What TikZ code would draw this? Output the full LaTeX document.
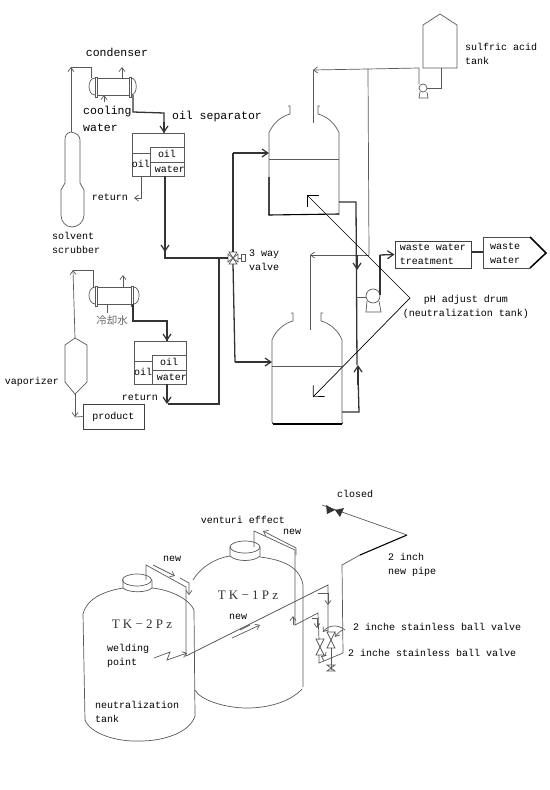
\documentclass[tikz,border=0pt]{standalone}
\usepackage{fontspec}
\setmainfont{Liberation Mono}
\newfontfamily\cjkfont{Noto Sans CJK JP}
\newfontfamily\tkfont{Liberation Serif}
\usetikzlibrary{arrows.meta,positioning,calc}

\tikzset{
  pipe/.style={draw=black!65, line width=0.7pt},
  hpipe/.style={draw=black!80, line width=1.3pt},
  lbl/.style={font=\fontsize{10}{14}\selectfont, inner sep=0pt, align=left},
  biglbl/.style={font=\fontsize{11.5}{13}\selectfont, inner sep=0pt, align=left},
  tklbl/.style={font=\tkfont\fontsize{13}{14}\selectfont, inner sep=0pt, text=black!80},
  barb/.style={-{Straight Barb[length=4pt,width=6pt]}},
  hbarb/.style={-{Straight Barb[length=6pt,width=8pt,line width=1.2pt]}},
  leader/.style={draw=black, line width=0.7pt, -{Straight Barb[length=8pt,width=16pt]}},
  separator/.pic={
    \draw[pipe] (0,0) rectangle (52,43);
    \draw[pipe] (18,43) -- (18,14) -- (52,14) (0,20) -- (18,20) (18,29) -- (52,29);
    \node[lbl] at (35,21) {oil};
    \node[lbl] at (9,31) {oil};
    \node[lbl] at (38,36) {water};
  },
  condenser/.pic={
    \draw[pipe] (6,0) .. controls (-2,0) and (-2,17) .. (6,17);
    \draw[pipe] (42,0) .. controls (49,0) and (49,17) .. (42,17);
    \draw[pipe] (6,-1) rectangle (8,19) (40,-1) rectangle (42,19);
    \draw[pipe, line width=1pt] (8,0) -- (40,0) (8,17) -- (40,17);
  },
  drum/.pic={
    \draw[pipe] (0,82) -- (0,0) .. controls (3,-8) and (10,-15) .. (18,-18) -- (21,-19) -- (21,-27) -- (19,-27);
    \draw[pipe] (70,82) -- (70,0) .. controls (67,-8) and (60,-15) .. (52,-18) -- (49,-19) -- (49,-27) -- (51,-27);
    \draw[pipe] (0,26) -- (70,26);
  },
  vvalve/.pic={
    \draw[pipe] (-4,-8) -- (4,-8) -- (0,0) -- cycle;
    \draw[pipe] (-4,8) -- (4,8) -- (0,0) -- cycle;
  },
}

\begin{document}
\begin{tikzpicture}[x=1pt,y=-1pt]
  \useasboundingbox (0,0) rectangle (549,790);

  % upper line: scrubber side
  \draw[pipe] (71,132) .. controls (66,133) and (65,136) .. (65,140) -- (65,183) -- (61,190) -- (61,215)
    .. controls (61,222) and (66,227) .. (72,227) .. controls (78,227) and (84,222) .. (84,215)
    -- (84,190) -- (80,183) -- (80,140) .. controls (80,136) and (77,133) .. (71,132);
  \coordinate (scrubtop) at (71,132);
  \coordinate (cond1in) at (91,78);
  \draw[pipe,barb] (scrubtop) -- (71,67);
  \draw[pipe] (71,67) -- (91,67) -- (cond1in);
  \pic at (89,78) {condenser};
  \draw[pipe,barb] (122,78) -- (122,67);
  \draw[pipe,barb] (104,102) -- (104,95);
  \pic at (132,133) {separator};
  \coordinate (sep1in) at (164,133);
  \draw[hpipe] (133,95) -- (133,112) -- (164,113) -- (sep1in);
  \draw[hpipe,hbarb] (164,122) -- (sep1in);
  \draw[pipe,barb] (141,176) -- (141,198) -- (134,198);
  \node[biglbl] (condlbl) at (117,52) {condenser};
  \node[biglbl, anchor=west] (coollbl) at (83,112) {cooling};
  \node[biglbl, below=6pt of coollbl.south west, anchor=north west] (watlbl) {water};
  \node[biglbl] (seplbl) at (217,117) {oil separator};
  \node[lbl] (ret1lbl) at (110,197) {return};
  \node[lbl] (solvlbl) at (52,243) [anchor=west] {solvent\\scrubber};

  % 3 way valve
  \coordinate (valve) at (233,258);
  \draw[pipe] (valve) -- ++(-5,-4) -- ++(0,8) -- cycle (valve) -- ++(5,-4) -- ++(0,8) -- cycle;
  \draw[pipe] (valve) -- ++(-4,-6) -- ++(8,0) -- cycle (valve) -- ++(-4,6) -- ++(8,0) -- cycle;
  \draw[pipe] (238,258) -- (241,258);
  \draw[pipe] (241,254) rectangle (245,261);
  \node[lbl, anchor=west] (vallbl) at (249,260) {3 way\\valve};
  \draw[hpipe] (165,176) -- (165,258) -- (228,258);
  \draw[hpipe,hbarb] (165,243) -- (165,252);
  \draw[hpipe] (233,252) -- (233,153);
  \draw[hpipe,hbarb] (233,153) -- (269,153);
  \draw[hpipe] (233,264) -- (235,362);
  \draw[hpipe,hbarb] (235,362) -- (272,362);

  % lower line: vaporizer side
  \coordinate (vaptop) at (75,338);
  \coordinate (vaptip) at (75,394);
  \draw[pipe] (vaptop) -- (87,345) -- (87,382) -- (vaptip) -- (65,382) -- (65,345) -- cycle;
  \coordinate (cond2in) at (93,287);
  \draw[pipe,barb] (vaptop) -- (73,270);
  \draw[pipe] (73,270) -- (93,270) -- (cond2in);
  \pic[xscale=1.06] at (89,287) {condenser};
  \draw[pipe,barb] (123,287) -- (123,275);
  \draw[pipe] (107,304) -- (107,313);
  \node[font=\cjkfont\fontsize{10.5}{12}\selectfont, text=black!60, inner sep=0pt] (coollbl2) at (112,321) {冷却水};
  \pic at (134,341) {separator};
  \coordinate (sep2in) at (167,341);
  \draw[hpipe] (133,304) -- (133,321) -- (167,321) -- (sep2in);
  \draw[hpipe,hbarb] (167,330) -- (sep2in);
  \node[draw=black!75, line width=1pt, minimum width=61pt, minimum height=25pt, inner sep=0pt, lbl] (prod) at (113.5,416.5) {product};
  \draw[pipe,barb] (vaptip) -- (75,417);
  \draw[pipe] (75,417) -- (prod.west);
  \node[lbl] (vaplbl) at (32,382) {vaporizer};
  \node[lbl] (ret2lbl) at (140,397) {return};
  \draw[hpipe] (219,258) -- (219,404) -- (168,404);
  \draw[hpipe,hbarb] (167,384) -- (167,404);

  % pH adjust drums
  \pic at (269,133) {drum};
  \pic at (272,340) {drum};
  \draw[line width=1.1pt] (269,177) -- (269,215) -- (339,214);
  \draw[line width=1.8pt] (273,424) -- (342,424);
  \draw[pipe, line width=0.5pt] (272,422) -- (272,424) (342,422) -- (342,424);

  % sulfric acid tank and pump
  \coordinate (acidout) at (441,68);
  \draw[pipe] (423,68) -- (423,25) -- (440,14) -- (457,25) -- (457,68) -- cycle;
  \draw[pipe] (acidout) -- (441,88) -- (427,88);
  \draw[pipe] (423,88) circle (4);
  \draw[pipe] (420,92) -- (419,98) -- (428,98) -- (427,92);
  \draw[pipe] (419,84) -- (419,68) -- (368,69);
  \draw[pipe,barb] (368,69) -- (313,70);
  \draw[pipe] (313,70) -- (313,123);
  \draw[pipe] (368,69) -- (369,255);
  \draw[pipe,barb] (369,255) -- (310,255);
  \draw[pipe] (310,255) -- (310,330);
  \node[lbl, anchor=west] (acidlbl) at (465,54) {sulfric acid\\tank};

  % drum outlets and transfer pump
  \draw[hpipe] (339,202) -- (356,202) -- (357,365);
  \draw[hpipe,hbarb] (357,255) -- (357,270);
  \draw[hpipe] (342,412) -- (359,412) -- (358,375);
  \draw[hpipe,hbarb] (358,385) -- (358,365);
  \draw[pipe] (357,297) -- (366,297);
  \draw[pipe] (373,296) circle (7);
  \draw[pipe] (367,301) -- (366,312) -- (381,312) -- (379,301);
  \node[draw=black!75, line width=1pt, minimum width=76pt, minimum height=27pt, inner sep=0pt, lbl] (treat) at (433,254.5) {waste water\\treatment};
  \draw[hpipe] (380,295) -- (380,255);
  \draw[hpipe,hbarb] (380,255) -- (treat.west);
  \coordinate (wastein) at (483,252);
  \draw[hpipe] (treat.east |- wastein) -- (wastein);
  \draw[draw=black!70, line width=1pt] (530,237) -- (483,237) -- (483,268) -- (530,268);
  \draw[line width=1.5pt] (530,237) -- (546,253) -- (530,268);
  \node[lbl, anchor=west] (wastelbl) at (490,253) {waste\\water};
  \coordinate (phapex) at (410,298);
  \draw[leader] (phapex) -- (307,195);
  \draw[leader] (phapex) -- (313,397);
  \node[lbl, align=center] (phlbl) at (466,307) {pH adjust drum\\(neutralization tank)};

  % tanks below
  \draw[pipe] (123,588) .. controls (105,591) and (87,598) .. (83,614) -- (85,720)
    .. controls (90,733) and (115,742) .. (140,741) .. controls (165,741) and (190,732) .. (195,716)
    -- (194,610) .. controls (190,600) and (172,590) .. (152,588);
  \draw[pipe] (123,580) -- (123,588) .. controls (128,593) and (147,593) .. (152,588) -- (152,580);
  \draw[pipe] (137,580) ellipse (14.5 and 6);
  \draw[pipe] (193,580) .. controls (200,568) and (215,558) .. (230,556);
  \draw[pipe] (260,557) .. controls (285,560) and (300,568) .. (303,585) -- (303,687);
  \draw[pipe] (302,689) .. controls (290,702) and (268,708) .. (247,708) .. controls (225,708) and (200,700) .. (195,690);
  \draw[pipe] (230,547) -- (230,556) .. controls (236,562) and (254,562) .. (260,556) -- (260,547);
  \draw[pipe] (245,547) ellipse (15 and 6);
  \node[tklbl] (tk2) at (142,624) {T K − 2 P z};
  \node[tklbl] (tk1) at (248,595) {T K − 1 P z};
  \node[lbl, anchor=west] (weldlbl) at (107,656) {welding\\point};
  \node[lbl, anchor=west] (neutlbl) at (95,712) {neutralization\\tank};

  % new piping
  \coordinate (tk2top) at (146,580);
  \coordinate (tk1top) at (254,547);
  \coordinate (weld) at (186,656);
  \draw[pipe] (tk2top) -- (146,565) -- (186,587) -- (weld) -- (328,585) -- (328,632);
  \draw[pipe] (331,648) -- (331,670);
  \draw[pipe] (tk1top) -- (254,531) -- (295,550) -- (295,625) -- (318,613) -- (319,640);
  \draw[pipe] (319,655) -- (319,663) -- (343,653) -- (342,565) -- (360,555);
  \draw[line width=1.1pt] (360,555) -- (407,535);
  \draw[pipe] (407,535) -- (322,505);
  \pic at (320,647) {vvalve};
  \pic at (331,640) {vvalve};
  \draw[pipe] (327,665) -- (335,665) -- (327,671) -- (335,671) -- cycle;
  \fill[black!80] (335,510) -- (326,505) -- (327,514) -- cycle (335,510) -- (344,508) -- (340,517) -- cycle;
  \draw[pipe,barb] (153,565) -- (175,576);
  \draw[pipe,barb] (180,578) -- (189,583) -- (189,595);
  \draw[pipe,barb] (296,555) -- (296,548) -- (263,531);
  \draw[pipe,barb] (232,638) -- (260,625);
  \draw[pipe] (240,630) -- (250,625);
  \draw[pipe,barb] (154,658) -- (170,652) -- (167,660) -- (187,653);
  \draw[pipe,barb] (293,625) -- (293,616);
  \draw[pipe,barb] (318,593) -- (328,593) -- (328,605);
  \draw[pipe,barb] (312,618) -- (317,618) -- (317,628);
  \draw[pipe,barb] (345,630) .. controls (338,624) and (328,625) .. (323,632);
  \draw[pipe,barb] (343,630) .. controls (340,631) and (337,634) .. (335,637);
  \draw[pipe,barb] (326,652) .. controls (326,656) and (323,657) .. (321,656);
  \node[lbl] (newa) at (172,559) {new};
  \node[lbl] (newb) at (292,532) {new};
  \node[lbl] (newc) at (238,617) {new};
  \node[lbl] (ventlbl) at (243,520) {venturi effect};
  \node[lbl] (closedlbl) at (355,494) {closed};
  \node[lbl, anchor=west] (inchlbl) at (388,564.5) {2 inch\\new pipe};
  \node[lbl, anchor=west] (balla) at (353,627) {2 inche stainless ball valve};
  \node[lbl, anchor=west] (ballb) at (348,653) {2 inche stainless ball valve};
\end{tikzpicture}
\end{document}
